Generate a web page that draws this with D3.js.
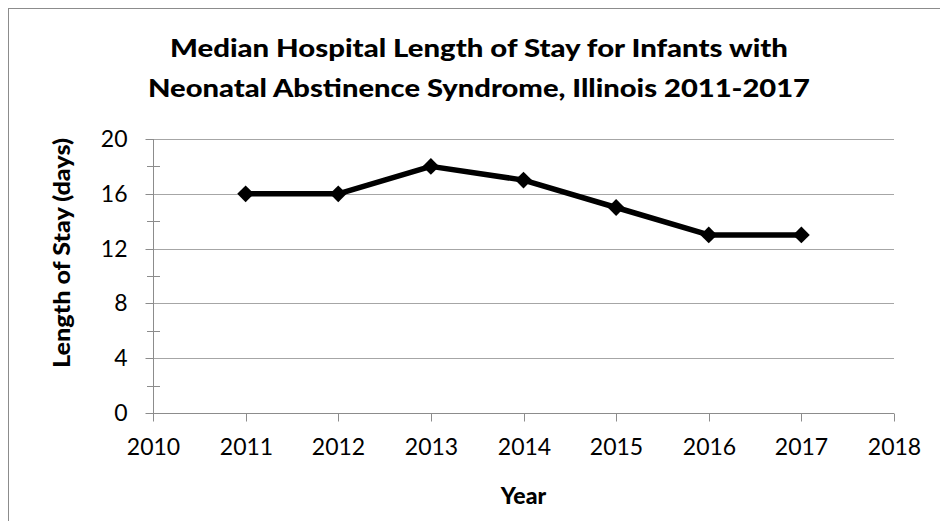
<!DOCTYPE html>
<html>
<head>
<meta charset="utf-8">
<script src="https://cdn.jsdelivr.net/npm/d3@7"></script>
<style>
  html, body { margin: 0; padding: 0; background: #fff; }
  svg { display: block; }
  text { font-family: Lato, "Open Sans", sans-serif; fill: #000; }
</style>
</head>
<body>
<svg id="chart" width="940" height="521"></svg>
<script>
const years = [2011, 2012, 2013, 2014, 2015, 2016, 2017];
const lengthOfStay = [16, 16, 18, 17, 15, 13, 13];
const xTicks = [2010, 2011, 2012, 2013, 2014, 2015, 2016, 2017, 2018];
const yTicks = [0, 4, 8, 12, 16, 20];
const yMinorTicks = [2, 6, 10, 14, 18];
const titleLines = ["Median Hospital Length of Stay for Infants with", "Neonatal Abstinence Syndrome, Illinois 2011-2017"];
const xTitle = "Year";
const yTitle = "Length of Stay (days)";

const svg = d3.select("#chart");
const W = 940, H = 521;
const plot = { left: 153, right: 894, top: 139, bottom: 413 };

// outer border
svg.append("rect").attr("x", 8.5).attr("y", 8.5).attr("width", W + 20).attr("height", H + 20)
  .attr("fill", "#fff").attr("stroke", "#8c8c8c").attr("stroke-width", 1);

const x = d3.scaleLinear().domain([2010, 2018]).range([plot.left, plot.right]);
const y = d3.scaleLinear().domain([0, 20]).range([plot.bottom, plot.top]);

const gridColor = "#a6a6a6";
const axisColor = "#8c8c8c";

// gridlines
svg.append("g").selectAll("line").data(yTicks.filter(d => d > 0)).join("line")
  .attr("x1", plot.left).attr("x2", plot.right)
  .attr("y1", d => Math.round(y(d)) + 0.5).attr("y2", d => Math.round(y(d)) + 0.5)
  .attr("stroke", gridColor).attr("stroke-width", 1);

// y axis
const yAxis = svg.append("g").attr("transform", `translate(${plot.left + 0.5},0)`)
  .call(d3.axisLeft(y).tickValues(yTicks).tickSize(8).tickPadding(18).tickFormat(d3.format("d")));
yAxis.select(".domain").attr("stroke", axisColor).attr("d", `M0,${plot.top}V${plot.bottom}`);
yAxis.selectAll(".tick line").attr("stroke", axisColor);
yAxis.selectAll(".tick").attr("transform", d => `translate(0,${Math.round(y(d)) + 0.5})`);
yAxis.selectAll(".tick text").attr("font-size", 23).attr("font-family", "Lato, sans-serif").attr("fill", "#000");

// minor y ticks (crossing)
svg.append("g").selectAll("line").data(yMinorTicks).join("line")
  .attr("x1", plot.left - 6).attr("x2", plot.left + 7)
  .attr("y1", d => Math.round(y(d)) + 0.5).attr("y2", d => Math.round(y(d)) + 0.5)
  .attr("stroke", axisColor).attr("stroke-width", 1);

// x axis
const xAxis = svg.append("g").attr("transform", `translate(0,${plot.bottom + 0.5})`)
  .call(d3.axisBottom(x).tickValues(xTicks).tickSize(8).tickPadding(17).tickFormat(d3.format("d")));
xAxis.select(".domain").attr("stroke", axisColor).attr("d", `M${plot.left},0H${plot.right}`);
xAxis.selectAll(".tick line").attr("stroke", axisColor);
xAxis.selectAll(".tick").attr("transform", d => `translate(${Math.round(x(d)) + 0.5},0)`);
xAxis.selectAll(".tick text").attr("font-size", 23).attr("font-family", "Lato, sans-serif").attr("fill", "#000");

// line
const line = d3.line().x((d, i) => x(years[i])).y(d => y(d));
svg.append("path").datum(lengthOfStay).attr("d", line)
  .attr("fill", "none").attr("stroke", "#000").attr("stroke-width", 5.5).attr("stroke-linejoin", "round");

// markers
svg.append("g").selectAll("path").data(lengthOfStay).join("path")
  .attr("d", d3.symbol().type(d3.symbolDiamond2).size(180))
  .attr("transform", (d, i) => `translate(${x(years[i])},${y(d)})`)
  .attr("fill", "#000");

// title
svg.append("text").attr("x", 479).attr("y", 57).attr("text-anchor", "middle")
  .attr("font-size", 25).attr("font-weight", 900)
  .attr("textLength", 618).attr("lengthAdjust", "spacingAndGlyphs").text(titleLines[0]);
svg.append("text").attr("x", 479).attr("y", 97).attr("text-anchor", "middle")
  .attr("font-size", 25).attr("font-weight", 900)
  .attr("textLength", 662).attr("lengthAdjust", "spacingAndGlyphs").text(titleLines[1]);

// axis titles
svg.append("text").attr("x", (plot.left + plot.right) / 2).attr("y", 504).attr("text-anchor", "middle")
  .attr("font-size", 23).attr("font-weight", 900).text(xTitle);
svg.append("text").attr("transform", `translate(70,253) rotate(-90)`).attr("text-anchor", "middle")
  .attr("font-size", 23).attr("font-weight", 900)
  .attr("textLength", 230).attr("lengthAdjust", "spacingAndGlyphs").text(yTitle);
</script>
</body>
</html>
